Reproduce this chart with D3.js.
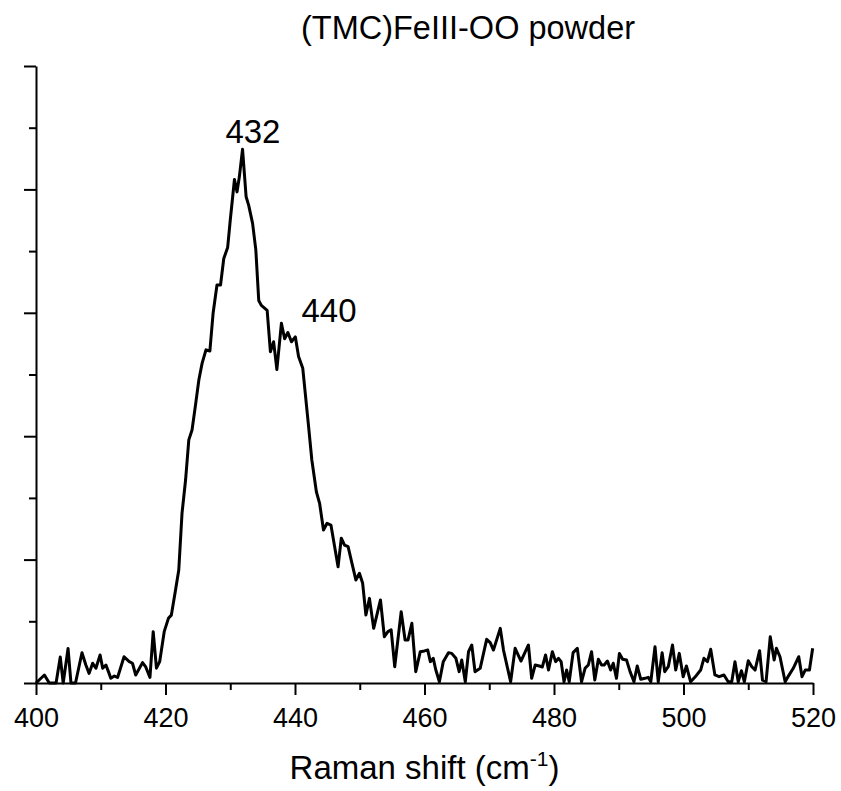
<!DOCTYPE html>
<html><head><meta charset="utf-8">
<script src="https://cdn.jsdelivr.net/npm/d3@7"></script>
<style>body{margin:0;background:#fff}svg{display:block}text{font-family:"Liberation Sans",Arial,sans-serif;fill:#000}</style>
</head><body>
<svg id="c" width="841" height="791"></svg>
<script>
const title = "(TMC)FeIII-OO powder";
const xLabel = "Raman shift (cm";
const xMajorTicks = [400,420,440,460,480,500,520];
const xMinorTicks = [410,430,450,470,490,510];
const yMajorTicks = [0,1,2,3,4,5];
const yMinorTicks = [0.5,1.5,2.5,3.5,4.5];
const shift = [400,401.3,402.05,403.1,403.75,404.2,404.95,405.4,406.1,407.1,407.7,408.2,408.75,409.25,409.9,410.3,410.8,411.2,411.55,412.1,412.6,413.6,414.4,414.9,415.4,416.45,416.95,417.6,418.1,418.6,419.1,419.8,420.45,420.9,421.55,422.05,422.55,423.1,423.6,424.1,424.6,425.15,425.65,426.25,426.85,427.35,427.95,428.5,429.0,429.6,430.0,430.65,431.05,431.4,431.9,432.45,432.85,433.45,433.95,434.4,434.8,435.7,436.2,436.7,437.2,437.9,438.4,438.9,439.45,440.05,440.55,441.2,442.1,442.6,443.3,443.8,444.4,444.95,445.55,446.65,447.15,447.65,448.2,448.8,449.4,449.95,450.45,450.95,451.5,452.15,453.2,453.8,454.35,454.85,455.4,456.4,457.0,457.45,458.05,458.65,459.35,460.0,460.5,460.9,461.35,461.75,462.3,462.9,463.7,464.2,464.85,465.35,465.75,466.3,466.8,467.3,467.8,468.6,469.6,470.15,470.65,471.7,472.2,473.3,474.0,474.9,476.05,476.55,477.1,477.75,478.2,478.7,479.15,479.75,480.25,480.7,481.1,481.55,481.95,482.35,482.95,483.6,484.25,484.8,485.3,485.8,486.3,486.85,487.35,487.75,488.25,488.75,489.15,489.65,490.1,490.6,491.2,491.75,492.35,492.85,493.4,494.05,494.55,494.95,495.6,496.1,496.7,497.1,497.65,498.3,498.8,499.35,499.95,500.45,501.1,501.75,502.65,503.15,503.7,504.2,504.85,505.5,506.25,506.9,507.45,507.95,508.45,508.95,509.4,510.0,510.55,511.05,511.75,512.2,512.75,513.4,514.0,514.35,514.9,515.7,516.2,516.95,517.8,518.3,518.8,519.45,519.95];
const intensity = [0,0.065,0,0,0.21,0,0.28,0,0,0.245,0.146,0.078,0.16,0.12,0.227,0.12,0.146,0.09,0.038,0.056,0.045,0.213,0.173,0.16,0.065,0.165,0.13,0.045,0.416,0.12,0.173,0.416,0.524,0.55,0.754,0.916,1.375,1.645,1.97,2.05,2.24,2.455,2.59,2.70,2.69,2.996,3.225,3.225,3.44,3.53,3.75,4.08,3.98,4.10,4.325,3.94,3.87,3.725,3.51,3.10,3.06,3.02,2.685,2.765,2.54,2.915,2.79,2.84,2.765,2.805,2.645,2.55,2.077,1.807,1.55,1.456,1.24,1.294,1.28,0.942,1.173,1.118,1.105,0.97,0.835,0.889,0.808,0.551,0.686,0.443,0.673,0.375,0.416,0.43,0.132,0.578,0.348,0.348,0.484,0.092,0.254,0.26,0.267,0.173,0.2,0.105,0.01,0.173,0.246,0.24,0.2,0.092,0.186,0.01,0.254,0.308,0.092,0.119,0.354,0.327,0.267,0.443,0.267,0.01,0.281,0.178,0.308,0.038,0.146,0.138,0.13,0.227,0.105,0.254,0.173,0.2,0.173,0.01,0.105,0.01,0.246,0.281,0.01,0.119,0.146,0.254,0.024,0.192,0.146,0.146,0.178,0.105,0.16,0.038,0.24,0.192,0.186,0.092,0.01,0.138,0.03,0.038,0.046,0.01,0.294,0.01,0.246,0.092,0.132,0.308,0.105,0.24,0.051,0.138,0.01,0.046,0.105,0.2,0.173,0.273,0.065,0.051,0.065,0.01,0.01,0.173,0.01,0.1,0.01,0.181,0.132,0.105,0.262,0.024,0.01,0.375,0.186,0.281,0.213,0.01,0.056,0.119,0.213,0.051,0.105,0.105,0.281];
const peakLabels = ["432","440"];
const peakX = [433.5,445.25];
const peakY = [4.38,2.925];

const W = 841, H = 791;
const m = {left:36, right:28, top:66, bottom:108};
const svg = d3.select("#c");
const x = d3.scaleLinear().domain([400,520]).range([m.left, W-m.right]);
const y = d3.scaleLinear().domain([0,5]).range([H-m.bottom, m.top]);

// axes
const gx = svg.append("g").attr("transform",`translate(0,${H-m.bottom})`);
gx.call(d3.axisBottom(x).tickValues(xMajorTicks).tickSize(12).tickSizeOuter(0).tickPadding(13).tickFormat(d3.format("d")));
const gxm = svg.append("g").attr("transform",`translate(0,${H-m.bottom})`);
gxm.call(d3.axisBottom(x).tickValues(xMinorTicks).tickSize(7).tickSizeOuter(0).tickFormat(""));
gxm.select(".domain").remove();
const gy = svg.append("g").attr("transform",`translate(${m.left},0)`);
gy.call(d3.axisLeft(y).tickValues(yMajorTicks).tickSize(12).tickSizeOuter(0).tickFormat(""));
const gym = svg.append("g").attr("transform",`translate(${m.left},0)`);
gym.call(d3.axisLeft(y).tickValues(yMinorTicks).tickSize(7).tickSizeOuter(0).tickFormat(""));
gym.select(".domain").remove();
svg.selectAll(".domain, .tick line").attr("stroke","#000").attr("stroke-width",2);
svg.selectAll(".tick text").attr("font-size",27).attr("font-family","'Liberation Sans',Arial,sans-serif").attr("fill","#000");

// line
const data = shift.map((s,i)=>({x:s,y:intensity[i]}));
svg.append("path").datum(data)
  .attr("fill","none").attr("stroke","#000").attr("stroke-width",3).attr("stroke-linejoin","round")
  .attr("d", d3.line().x(d=>x(d.x)).y(d=>y(d.y)));

// peak labels
svg.selectAll(".pk").data(peakLabels).join("text").attr("class","pk")
  .attr("x",(d,i)=>x(peakX[i])).attr("y",(d,i)=>y(peakY[i]))
  .attr("text-anchor","middle").attr("font-size",33).text(d=>d);

// title
svg.append("text").attr("x",468).attr("y",39).attr("text-anchor","middle").attr("font-size",32.5).text(title);

// x label
const xl = svg.append("text").attr("x",(m.left+W-m.right)/2).attr("y",779).attr("text-anchor","middle").attr("font-size",33);
xl.append("tspan").text(xLabel);
xl.append("tspan").attr("font-size",21).attr("dy",-13).text("-1");
xl.append("tspan").attr("dy",13).text(")");
</script>
</body></html>
